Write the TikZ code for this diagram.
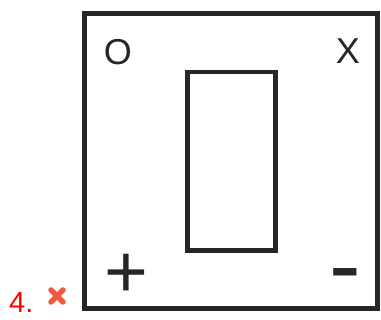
\documentclass[tikz,border=0pt]{standalone}
\usepackage{fontspec}
\setmainfont{Liberation Sans}
\definecolor{crossred}{HTML}{EE5A3C}
\begin{document}
\begin{tikzpicture}[x=1pt, y=-1pt,
    frame/.style={line width=5pt, black!85},
    slot/.style={line width=4.5pt, black!85},
    corner label/.style={inner sep=0pt, anchor=base, font=\fontsize{36}{36}\selectfont, black!85},
    sign label/.style={inner sep=0pt, anchor=base, black!85},
    wrong mark/.style={line width=5.5pt, line cap=round, crossred}]

  \useasboundingbox (0, 0) rectangle (381, 320);

  % ===== Outer panel =====
  \draw[frame] (84, 14) rectangle (377.5, 309);

  % Inner slot
  \draw[slot] (187.5, 72) rectangle (275.5, 250.5);

  % ===== Corner labels =====
  \node[corner label] (O) at (118, 65) {O};
  \node[corner label] (X) at (348, 64) {X};
  \node[sign label, font=\fontsize{75}{75}\selectfont] (plus) at (126, 298) {+};
  \node[sign label, font=\fontsize{95}{95}\selectfont] (minus) at (345.5, 298) {-};

  % ===== Item number with wrong mark =====
  \node[red, inner sep=0pt, anchor=base west, font=\fontsize{29}{29}\selectfont]
    (num) at (9, 313) {4.};
  \draw[wrong mark] (51, 290) -- (63, 302);
  \draw[wrong mark] (51, 302) -- (63, 290);

\end{tikzpicture}
\end{document}
